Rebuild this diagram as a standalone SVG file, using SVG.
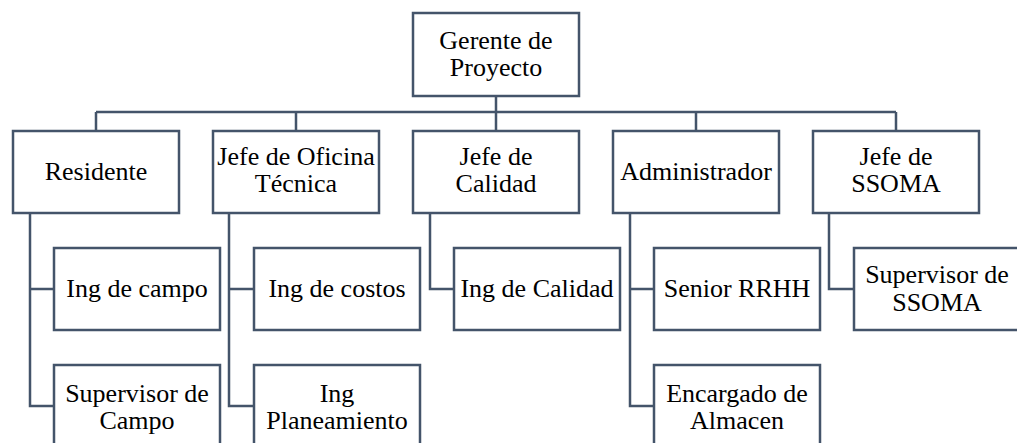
<svg xmlns="http://www.w3.org/2000/svg" width="1017" height="443" viewBox="0 0 1017 443">
<style>
.box{fill:#ffffff;stroke:#44546A;stroke-width:2.5}
.ln{fill:none;stroke:#44546A;stroke-width:2.5}
</style>
<rect width="1017" height="443" fill="#ffffff"/>
<g id="connectors">
<path class="ln" d="M496 96V112M96 112H896M96 112V131M296 112V131M496 112V131M696 112V131M896 112V131"/>
<path class="ln" d="M30 213V406H54M30 289H54"/>
<path class="ln" d="M229 213V406H254M229 289H254"/>
<path class="ln" d="M430 213V289H454"/>
<path class="ln" d="M630 213V406H654M630 289H654"/>
<path class="ln" d="M829 213V289H854"/>
</g>
<g id="nodes" font-family="Liberation Serif, Times New Roman, Tinos, Noto Serif, DejaVu Serif, serif" font-size="26" fill="#000000" text-anchor="middle">
<g id="gerente"><rect class="box" x="413" y="13" width="166" height="83"/><text x="496" y="49">Gerente de</text><text x="496" y="76">Proyecto</text></g>
<g id="residente"><rect class="box" x="13" y="131" width="166" height="82"/><text x="96" y="180">Residente</text></g>
<g id="jefe-oficina"><rect class="box" x="213" y="131" width="166" height="82"/><text x="296" y="165">Jefe de Oficina</text><text x="296" y="192">Técnica</text></g>
<g id="jefe-calidad"><rect class="box" x="413" y="131" width="166" height="82"/><text x="496" y="165">Jefe de</text><text x="496" y="192">Calidad</text></g>
<g id="administrador"><rect class="box" x="613" y="131" width="166" height="82"/><text x="696" y="180">Administrador</text></g>
<g id="jefe-ssoma"><rect class="box" x="813" y="131" width="166" height="82"/><text x="896" y="165">Jefe de</text><text x="896" y="192">SSOMA</text></g>
<g id="ing-campo"><rect class="box" x="54" y="248" width="166" height="82"/><text x="137" y="297">Ing de campo</text></g>
<g id="supervisor-campo"><rect class="box" x="54" y="365" width="166" height="82"/><text x="137" y="402">Supervisor de</text><text x="137" y="429">Campo</text></g>
<g id="ing-costos"><rect class="box" x="254" y="248" width="166" height="82"/><text x="337" y="297">Ing de costos</text></g>
<g id="ing-planeamiento"><rect class="box" x="254" y="365" width="166" height="82"/><text x="337" y="402">Ing</text><text x="337" y="429">Planeamiento</text></g>
<g id="ing-calidad"><rect class="box" x="454" y="248" width="166" height="82"/><text x="537" y="297">Ing de Calidad</text></g>
<g id="senior-rrhh"><rect class="box" x="654" y="248" width="166" height="82"/><text x="737" y="297">Senior RRHH</text></g>
<g id="encargado-almacen"><rect class="box" x="654" y="365" width="166" height="82"/><text x="737" y="402">Encargado de</text><text x="737" y="429">Almacen</text></g>
<g id="supervisor-ssoma"><rect class="box" x="854" y="248" width="166" height="82"/><text x="937" y="283">Supervisor de</text><text x="937" y="311">SSOMA</text></g>
</g>
</svg>
